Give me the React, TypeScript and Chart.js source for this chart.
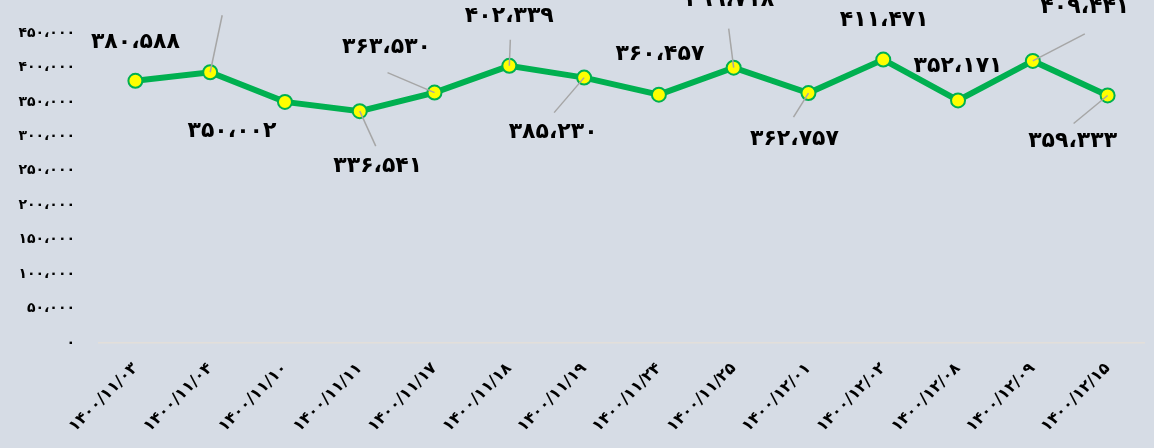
import React, { useEffect, useRef } from "react";
import { Chart, registerables } from "chart.js";

Chart.register(...registerables);

const categories = [
  "۱۴۰۰/۱۱/۰۳",
  "۱۴۰۰/۱۱/۰۴",
  "۱۴۰۰/۱۱/۱۰",
  "۱۴۰۰/۱۱/۱۱",
  "۱۴۰۰/۱۱/۱۷",
  "۱۴۰۰/۱۱/۱۸",
  "۱۴۰۰/۱۱/۱۹",
  "۱۴۰۰/۱۱/۲۴",
  "۱۴۰۰/۱۱/۲۵",
  "۱۴۰۰/۱۲/۰۱",
  "۱۴۰۰/۱۲/۰۲",
  "۱۴۰۰/۱۲/۰۸",
  "۱۴۰۰/۱۲/۰۹",
  "۱۴۰۰/۱۲/۱۵",
];

const values = [
  380588, 393000, 350002, 336541, 363530, 402339, 385230, 360457, 399718,
  362757, 411471, 352171, 409441, 359333,
];

const yMin = 0;
const yMax = 450000;
const yStep = 50000;

// label placement relative to each point: [dx, dy] of label centre, leader end (or null)
const labelOffsets: [number, number][] = [
  [0, -39], [16, -84], [-53, 29], [18, 55], [-48, -45], [0, -50], [-31, 55],
  [1, -40], [-4, -67], [-14, 46], [1, -39], [0, -34], [52, -54], [-35, 46],
];
const leaderEnds: ([number, number] | null)[] = [
  null, [12, -57], null, [16, 35], [-47, -20], [1, -26], [-30, 35],
  null, [-5, -39], [-15, 24], null, null, [52, -27], [-34, 28],
];

const FA_DIGITS = ["۰", "۱", "۲", "۳", "۴", "۵", "۶", "۷", "۸", "۹"];
function toFa(n: number): string {
  return Math.round(n)
    .toLocaleString("en-US")
    .replace(/\d/g, (d) => FA_DIGITS[Number(d)])
    .replace(/,/g, "،");
}

const FONT = "'DejaVu Sans', sans-serif";
const BG = "#d6dce5";

const labelsPlugin = {
  id: "leaderLabels",
  afterDatasetsDraw(chart: any) {
    const ctx = chart.ctx;
    const meta = chart.getDatasetMeta(0);
    ctx.save();
    meta.data.forEach((pt: any, i: number) => {
      const x = pt.x;
      const y = pt.y;
      const le = leaderEnds[i];
      if (le) {
        ctx.beginPath();
        ctx.strokeStyle = "#a6a6a6";
        ctx.lineWidth = 1.5;
        ctx.moveTo(x, y);
        ctx.lineTo(x + le[0], y + le[1]);
        ctx.stroke();
      }
    });
    meta.data.forEach((pt: any, i: number) => {
      const off = labelOffsets[i];
      ctx.font = `bold 22px ${FONT}`;
      ctx.fillStyle = "#000000";
      ctx.textAlign = "center";
      ctx.textBaseline = "middle";
      ctx.fillText(toFa(values[i]), pt.x + off[0], pt.y + off[1]);
    });
    ctx.restore();
  },
};

export default function App() {
  const canvasRef = useRef<HTMLCanvasElement | null>(null);

  useEffect(() => {
    if (!canvasRef.current) return;
    const chart = new Chart(canvasRef.current, {
      type: "line",
      data: {
        labels: categories,
        datasets: [
          {
            data: values,
            borderColor: "#00b050",
            borderWidth: 6,
            tension: 0,
            pointRadius: 7,
            pointHoverRadius: 7,
            pointBackgroundColor: "#ffff00",
            pointBorderColor: "#00b050",
            pointBorderWidth: 2,
            fill: false,
          },
        ],
      },
      options: {
        animation: false,
        responsive: false,
        maintainAspectRatio: false,
        layout: { padding: { top: 33, right: 6, left: 0, bottom: 0 } },
        plugins: {
          legend: { display: false },
          tooltip: { enabled: false },
        },
        scales: {
          x: {
            offset: true,
            grid: { display: false },
            border: { display: false },
            ticks: {
              minRotation: 45,
              maxRotation: 45,
              autoSkip: false,
              color: "#000000",
              padding: 8,
              font: { family: FONT, size: 16, weight: "bold" },
            },
            afterFit(scale: any) {
              scale.height = 105;
            },
          },
          y: {
            min: yMin,
            max: yMax,
            border: { display: false },
            grid: {
              drawTicks: false,
              color: (c: any) => (c.tick && c.tick.value === 0 ? "#e3dfda" : "rgba(0,0,0,0)"),
              lineWidth: 1.5,
            },
            ticks: {
              stepSize: yStep,
              color: "#000000",
              padding: 23,
              font: { family: FONT, size: 14, weight: "bold" },
              callback: (v: any) => toFa(Number(v)),
            },
            afterFit(scale: any) {
              scale.width = 98;
            },
          },
        },
      },
      plugins: [labelsPlugin],
    });
    return () => chart.destroy();
  }, []);

  return (
    <div
      style={{
        position: "fixed",
        left: 0,
        top: 0,
        width: 1154,
        height: 448,
        background: BG,
      }}
    >
      <canvas ref={canvasRef} width={1154} height={448} style={{ display: "block" }} />
    </div>
  );
}
